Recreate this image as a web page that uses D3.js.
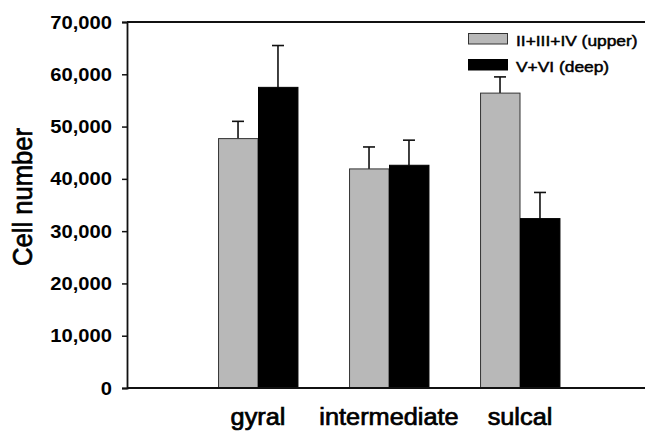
<!DOCTYPE html>
<html>
<head>
<meta charset="utf-8">
<script src="https://cdn.jsdelivr.net/npm/d3@7"></script>
<style>
  html, body { margin: 0; padding: 0; background: #fff; }
  svg { display: block; font-family: "Liberation Sans", Arial, sans-serif; }
</style>
</head>
<body>
<svg id="chart" width="645" height="431"></svg>
<script>
const categories = ["gyral", "intermediate", "sulcal"];
const seriesNames = ["II+III+IV (upper)", "V+VI (deep)"];
const upperValues = [47700, 41900, 56400];
const upperErrors = [3300, 4200, 3100];
const deepValues = [57500, 42600, 32400];
const deepErrors = [8000, 4800, 5000];
const yTicks = [0, 10000, 20000, 30000, 40000, 50000, 60000, 70000];
const seriesColors = ["#b8b8b8", "#000000"];

const svg = d3.select("#chart");
const plotLeft = 127, plotRight = 645, plotTop = 22, plotBottom = 388;

const y = d3.scaleLinear().domain([0, 70000]).range([plotBottom, plotTop]);
const x0 = d3.scaleBand().domain(categories).range([192.5, 585.5])
  .paddingInner(0.39).paddingOuter(0.195);
const x1 = d3.scaleBand().domain(seriesNames).range([0, x0.bandwidth()]);

const data = categories.map((c, i) => ({
  cat: c,
  vals: [
    { s: seriesNames[0], v: upperValues[i], e: upperErrors[i], color: seriesColors[0] },
    { s: seriesNames[1], v: deepValues[i], e: deepErrors[i], color: seriesColors[1] }
  ]
}));

svg.append("line").attr("x1", plotLeft).attr("x2", plotRight).attr("y1", plotTop).attr("y2", plotTop)
  .attr("stroke", "#111").attr("stroke-width", 1.8);

const groups = svg.selectAll("g.grp").data(data).join("g")
  .attr("class", "grp")
  .attr("transform", d => `translate(${x0(d.cat)},0)`);

groups.selectAll("g.err").data(d => d.vals).join("g").attr("class", "err")
  .each(function(d) {
    const g = d3.select(this);
    const cx = x1(d.s) + x1.bandwidth() / 2;
    g.append("line").attr("x1", cx).attr("x2", cx)
      .attr("y1", y(d.v)).attr("y2", y(d.v + d.e))
      .attr("stroke", "#111").attr("stroke-width", 1.6);
    g.append("line").attr("x1", cx - 6).attr("x2", cx + 6)
      .attr("y1", y(d.v + d.e)).attr("y2", y(d.v + d.e))
      .attr("stroke", "#111").attr("stroke-width", 1.6);
  });

groups.selectAll("rect").data(d => d.vals).join("rect")
  .attr("x", d => x1(d.s) + 0.5)
  .attr("y", d => y(d.v))
  .attr("width", x1.bandwidth() - 0.5)
  .attr("height", d => y(0) - y(d.v))
  .attr("fill", d => d.color)
  .attr("stroke", d => d.color === "#000000" ? "#000" : "#333")
  .attr("stroke-width", 1);

svg.append("line").attr("x1", plotLeft).attr("x2", plotRight).attr("y1", plotBottom).attr("y2", plotBottom)
  .attr("stroke", "#111").attr("stroke-width", 1.8);

const yAxis = d3.axisLeft(y).tickValues(yTicks).tickFormat(d3.format(","))
  .tickSize(5).tickPadding(10);
const ya = svg.append("g").attr("transform", `translate(${plotLeft},0)`).call(yAxis);
ya.select(".domain").attr("stroke", "#111").attr("stroke-width", 1.8);
ya.selectAll(".tick line").attr("stroke", "#111").attr("stroke-width", 1.5);
ya.selectAll(".tick text")
  .attr("font-size", 18).attr("font-weight", "bold").attr("fill", "#000")
  .attr("font-family", "Liberation Sans, Arial, sans-serif")
  .attr("dy", "0.34em")
  .each(function(d) {
    const w = this.getComputedTextLength();
    d3.select(this).attr("textLength", w * 1.12).attr("lengthAdjust", "spacingAndGlyphs");
  });

svg.append("text")
  .attr("transform", "translate(32,197) rotate(-90)")
  .attr("text-anchor", "middle")
  .attr("font-size", 27)
  .attr("fill", "#000").attr("stroke", "#000").attr("stroke-width", 0.7)
  .attr("textLength", 138).attr("lengthAdjust", "spacingAndGlyphs")
  .text("Cell number");

svg.selectAll("text.cat").data(categories).join("text")
  .attr("class", "cat")
  .attr("x", d => x0(d) + x0.bandwidth() / 2)
  .attr("y", 425)
  .attr("text-anchor", "middle")
  .attr("font-size", 23)
  .attr("fill", "#000").attr("stroke", "#000").attr("stroke-width", 0.7)
  .text(d => d)
  .each(function() {
    const w = this.getComputedTextLength();
    d3.select(this).attr("textLength", w * 1.1).attr("lengthAdjust", "spacingAndGlyphs");
  });

const legend = svg.append("g");
const legY = [33, 59];
seriesNames.forEach((s, i) => {
  legend.append("rect").attr("x", 468.5).attr("y", legY[i] + 0.5)
    .attr("width", 39).attr("height", 10.5)
    .attr("fill", seriesColors[i]).attr("stroke", i === 0 ? "#333" : "#000").attr("stroke-width", 1);
  legend.append("text").attr("x", 516).attr("y", legY[i] + 12.5)
    .attr("font-size", 14).attr("fill", "#000").attr("stroke", "#000").attr("stroke-width", 0.45)
    .text(s)
    .each(function() {
      const w = this.getComputedTextLength();
      d3.select(this).attr("textLength", w * 1.24).attr("lengthAdjust", "spacingAndGlyphs");
    });
});
</script>
</body>
</html>
